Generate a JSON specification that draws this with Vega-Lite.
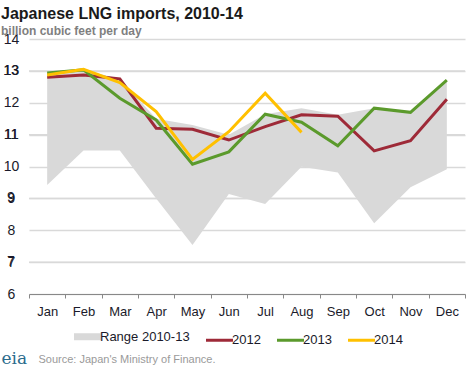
{
  "$schema": "https://vega.github.io/schema/vega-lite/v6.json",
  "width": 436,
  "height": 255,
  "autosize": "none",
  "padding": {"left": 29, "top": 39, "right": 3, "bottom": 72},
  "background": "white",
  "config": {
    "font": "Liberation Sans",
    "view": {"stroke": null}
  },
  "resolve": {"axis": {"y": "independent"}},
  "title": {
    "text": "Japanese LNG imports, 2010-14",
    "subtitle": "billion cubic feet per day",
    "anchor": "start",
    "frame": "group",
    "dx": -28,
    "offset": -5,
    "fontSize": 16,
    "fontWeight": "bold",
    "color": "#1a1a1a",
    "subtitleFontSize": 12,
    "subtitleFontWeight": "bold",
    "subtitleColor": "#7f7f7f",
    "subtitlePadding": 4
  },
  "datasets": {
    "oddticks": [
      {"gy": 7}, {"gy": 9}, {"gy": 11}, {"gy": 13}
    ],
    "range": [
      {"month": "Jan", "lo": 9.42, "hi": 12.93},
      {"month": "Feb", "lo": 10.5, "hi": 13.03},
      {"month": "Mar", "lo": 10.5, "hi": 12.75},
      {"month": "Apr", "lo": 9.0, "hi": 11.5},
      {"month": "May", "lo": 7.54, "hi": 11.3},
      {"month": "Jun", "lo": 9.14, "hi": 11.0},
      {"month": "Jul", "lo": 8.82, "hi": 11.64},
      {"month": "Aug", "lo": 9.99, "hi": 11.83},
      {"month": "Sep", "lo": 9.81, "hi": 11.62},
      {"month": "Oct", "lo": 8.22, "hi": 11.83},
      {"month": "Nov", "lo": 9.35, "hi": 11.7},
      {"month": "Dec", "lo": 9.91, "hi": 12.71}
    ],
    "lines": [
      {"month": "Jan", "series": "2012", "value": 12.8},
      {"month": "Feb", "series": "2012", "value": 12.87},
      {"month": "Mar", "series": "2012", "value": 12.75},
      {"month": "Apr", "series": "2012", "value": 11.2},
      {"month": "May", "series": "2012", "value": 11.17},
      {"month": "Jun", "series": "2012", "value": 10.83},
      {"month": "Jul", "series": "2012", "value": 11.25},
      {"month": "Aug", "series": "2012", "value": 11.62},
      {"month": "Sep", "series": "2012", "value": 11.58},
      {"month": "Oct", "series": "2012", "value": 10.49},
      {"month": "Nov", "series": "2012", "value": 10.81},
      {"month": "Dec", "series": "2012", "value": 12.11},
      {"month": "Jan", "series": "2013", "value": 12.93},
      {"month": "Feb", "series": "2013", "value": 13.03},
      {"month": "Mar", "series": "2013", "value": 12.14},
      {"month": "Apr", "series": "2013", "value": 11.46},
      {"month": "May", "series": "2013", "value": 10.07},
      {"month": "Jun", "series": "2013", "value": 10.46},
      {"month": "Jul", "series": "2013", "value": 11.64},
      {"month": "Aug", "series": "2013", "value": 11.39},
      {"month": "Sep", "series": "2013", "value": 10.65},
      {"month": "Oct", "series": "2013", "value": 11.83},
      {"month": "Nov", "series": "2013", "value": 11.7},
      {"month": "Dec", "series": "2013", "value": 12.71},
      {"month": "Jan", "series": "2014", "value": 12.87},
      {"month": "Feb", "series": "2014", "value": 13.05},
      {"month": "Mar", "series": "2014", "value": 12.63},
      {"month": "Apr", "series": "2014", "value": 11.72},
      {"month": "May", "series": "2014", "value": 10.22},
      {"month": "Jun", "series": "2014", "value": 11.09},
      {"month": "Jul", "series": "2014", "value": 12.3},
      {"month": "Aug", "series": "2014", "value": 11.07}
    ]
  },
  "encoding": {
    "x": {
      "field": "month",
      "type": "ordinal",
      "sort": ["Jan","Feb","Mar","Apr","May","Jun","Jul","Aug","Sep","Oct","Nov","Dec"],
      "scale": {"type": "band", "paddingInner": 0, "paddingOuter": 0},
      "bandPosition": 0.5,
      "axis": {
        "title": "Source: Japan's Ministry of Finance.",
        "titleAnchor": "start",
        "titleAlign": "left",
        "titleBaseline": "alphabetic",
        "titleX": 9,
        "titleY": 68,
        "titleFontSize": 11,
        "titleFontWeight": "normal",
        "titleColor": "#9a9a9a",
        "labelAngle": 0,
        "labelFontSize": 13,
        "labelColor": "#1a1a2a",
        "labelPadding": 7,
        "tickBand": "extent",
        "tickSize": 4,
        "tickColor": "#888888",
        "domainColor": "#888888",
        "grid": false
      }
    }
  },
  "layer": [
    {
      "data": {"name": "oddticks"},
      "mark": {"type": "rule", "color": "#d9d9d9", "strokeWidth": 1.5},
      "encoding": {
        "x": {"value": 0},
        "x2": {"value": 436},
        "y": {"field": "gy", "type": "quantitative", "axis": null}
      }
    },
    {
      "data": {"name": "range"},
      "mark": {"type": "area", "color": "#d9d9d9"},
      "encoding": {
        "y": {
          "field": "lo",
          "type": "quantitative",
          "scale": {"domain": [6, 14], "nice": false, "zero": false},
          "axis": {
            "title": "eia",
            "titleAngle": 0,
            "titleAlign": "left",
            "titleBaseline": "alphabetic",
            "titleX": -28,
            "titleY": 324,
            "titleFont": "DejaVu Serif",
            "titleFontSize": 17,
            "titleFontWeight": "normal",
            "titleColor": "#2b6b8c",
            "values": [6, 7, 8, 9, 10, 11, 12, 13, 14],
            "grid": true,
            "domain": false,
            "ticks": false,
            "labelAlign": "center",
            "labelPadding": 18,
            "labelFontSize": 14,
            "labelColor": "#1a1a2a",
            "gridColor": "#d9d9d9",
            "gridWidth": 1.5,
            "labelOverlap": false
          }
        },
        "y2": {"field": "hi"},
        "color": {"datum": "Range 2010-13"}
      }
    },
    {
      "data": {"name": "lines"},
      "mark": {"type": "line", "strokeWidth": 3},
      "encoding": {
        "y": {
          "field": "value",
          "type": "quantitative",
          "axis": null
        },
        "color": {
          "field": "series",
          "type": "nominal",
          "scale": {
            "domain": ["Range 2010-13", "2012", "2013", "2014"],
            "range": ["#d9d9d9", "#9e2a38", "#5b9a2c", "#ffc000"]
          },
          "legend": {
            "title": null,
            "orient": "none",
            "legendX": 52,
            "legendY": 291,
            "direction": "horizontal",
            "symbolType": "stroke",
            "symbolSize": 729,
            "symbolStrokeWidth": 3,
            "labelFontSize": 13,
            "labelColor": "#1a1a2a",
            "labelOffset": 6,
            "columnPadding": 10,
            "encode": {
              "symbols": {
                "update": {
                  "strokeWidth": {"signal": "datum.value === 'Range 2010-13' ? 7 : 3"}
                }
              }
            }
          }
        }
      }
    },
    {
      "data": {"name": "oddticks"},
      "mark": {"type": "text", "align": "center", "baseline": "middle", "dx": -18, "fontSize": 14, "color": "#1a1a2a"},
      "encoding": {
        "x": {"value": 0},
        "y": {"field": "gy", "type": "quantitative", "axis": null},
        "text": {"field": "gy", "type": "quantitative"}
      }
    }
  ]
}
